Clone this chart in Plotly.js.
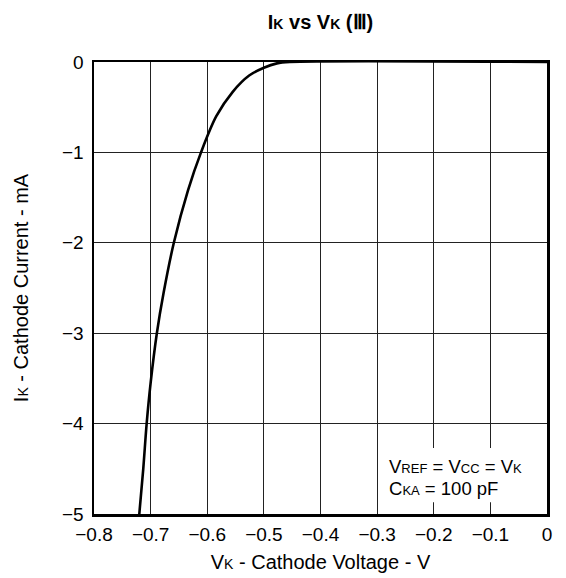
<!DOCTYPE html>
<html>
<head>
<meta charset="utf-8">
<script src="https://cdn.plot.ly/plotly-3.0.1.min.js"></script>
<style>html,body{margin:0;padding:0;background:#fff;}#chart{width:566px;height:578px;}</style>
</head>
<body>
<div id="chart"></div>
<script>
// Cathode voltage (V) and cathode current (mA)
const vk = [-0.720, -0.713, -0.707, -0.700, -0.689, -0.677, -0.659, -0.634, -0.611, -0.584, -0.555, -0.526, -0.500, -0.477, -0.454, 0.0];
const ik = [-5.0, -4.5, -4.0, -3.55, -3.0, -2.55, -2.0, -1.42, -1.0, -0.60, -0.33, -0.15, -0.063, -0.015, 0.0, 0.0];
const xTicks = [-0.8, -0.7, -0.6, -0.5, -0.4, -0.3, -0.2, -0.1, 0];
const yTicks = [-5, -4, -3, -2, -1, 0];

const sm = s => "<span style='font-size:14px'>" + s + "</span>";
const smL = s => "<span style='font-size:13px'>" + s + "</span>";
const smT = s => "<span style='font-size:14px'>" + s + "</span>";

const trace = {
  x: vk, y: ik, type: 'scatter', mode: 'lines',
  line: {color: '#000', width: 2.6, shape: 'spline', smoothing: 0.9},
  hoverinfo: 'skip', showlegend: false
};

const font = {family: 'Liberation Sans, Arial, sans-serif', color: '#000'};

const layout = {
  width: 566, height: 578,
  margin: {l: 94, r: 19, t: 62, b: 64},
  paper_bgcolor: '#fff', plot_bgcolor: '#fff',
  font: Object.assign({size: 19}, font),
  title: {
    text: '<b>I' + smT('K') + ' vs V' + smT('K') + ' (Ⅲ)</b>',
    font: Object.assign({size: 20}, font),
    x: 0.5, xref: 'paper', xanchor: 'center',
    y: 1 - 22/578, yref: 'container', yanchor: 'middle'
  },
  xaxis: {
    range: [-0.8, 0], tickvals: xTicks, ticktext: xTicks.map(v => v === 0 ? '0' : '−' + Math.abs(v).toFixed(1)),
    showgrid: true, gridcolor: '#222', gridwidth: 1,
    zeroline: false, showline: true, linecolor: '#000', linewidth: 2.5, mirror: true,
    ticks: '', ticklabelstandoff: 2, tickfont: Object.assign({size: 19}, font),
    title: {text: 'V' + sm('K') + ' - Cathode Voltage - V', font: Object.assign({size: 20}, font), standoff: 11},
    fixedrange: true
  },
  yaxis: {
    range: [-5, 0], tickvals: yTicks, ticktext: yTicks.map(v => v === 0 ? '0' : '−' + Math.abs(v)),
    showgrid: true, gridcolor: '#222', gridwidth: 1,
    zeroline: false, showline: true, linecolor: '#000', linewidth: 2.5, mirror: true,
    ticks: '', ticklabelstandoff: 4, tickfont: Object.assign({size: 19}, font),
    title: {text: 'I' + sm('K') + ' - Cathode Current - mA', font: Object.assign({size: 20}, font), standoff: 28},
    fixedrange: true
  },
  shapes: [{
    type: 'rect', xref: 'x', yref: 'y', layer: 'between',
    x0: -0.297, x1: -0.003, y0: -4.87, y1: -4.27,
    fillcolor: '#fff', line: {width: 0}
  }],
  annotations: [
    {xref: 'x', yref: 'y', x: -0.283, y: -4.48, xanchor: 'left', yanchor: 'middle', showarrow: false,
     text: 'V' + smL('REF') + ' = V' + smL('CC') + ' = V' + smL('K'), font: Object.assign({size: 18.5}, font)},
    {xref: 'x', yref: 'y', x: -0.283, y: -4.72, xanchor: 'left', yanchor: 'middle', showarrow: false,
     text: 'C' + smL('KA') + ' = 100 pF', font: Object.assign({size: 18.5}, font)}
  ]
};

Plotly.newPlot('chart', [trace], layout, {displayModeBar: false, staticPlot: true});
</script>
</body>
</html>
